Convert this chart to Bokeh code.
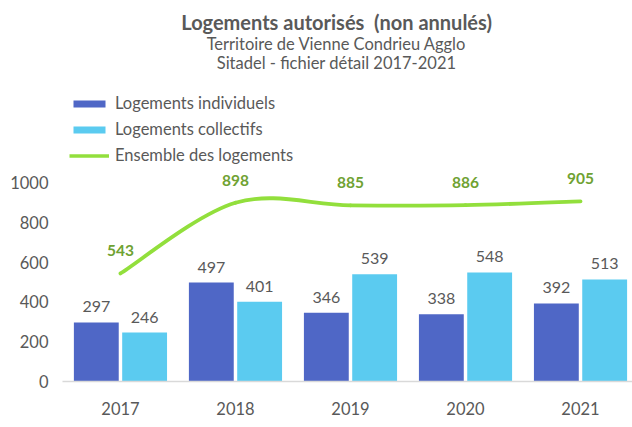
import numpy as np
from bokeh.plotting import figure
from bokeh.models import (ColumnDataSource, Legend, LegendItem, Range1d,
                          FixedTicker, CustomJSTickFormatter, Label, LabelSet)
from bokeh.core.properties import value
from bokeh.embed import file_html
from bokeh.resources import INLINE

years = ["2017", "2018", "2019", "2020", "2021"]
individuels = [297, 497, 346, 338, 392]
collectifs = [246, 401, 539, 548, 513]
ensemble = [543, 898, 885, 886, 905]
y_ticks = [0, 200, 400, 600, 800, 1000]

title_lines = ["Logements autorisés\u00a0 (non annulés)",
               "Territoire de Vienne Condrieu Agglo",
               "Sitadel - fichier détail 2017-2021"]
legend_labels = ["Logements individuels", "Logements collectifs", "Ensemble des logements"]

C_DARK = "#4F67C6"
C_LIGHT = "#5BCBF0"
C_LINE = "#92DF3C"
C_LINE_LBL = "#6FA232"
C_TEXT = "#595959"
FONT = "Lato"

x = np.arange(len(years), dtype=float)
off = 0.21
bw = 0.39

p = figure(width=632, height=427, output_backend="svg", toolbar_location=None,
           x_range=Range1d(-0.504, 4.452), y_range=Range1d(0, 1914),
           min_border_left=62, min_border_right=0, min_border_top=0,
           min_border_bottom=46)
p.outline_line_color = None
p.grid.visible = False
p.background_fill_color = "white"
p.border_fill_color = "white"

src = ColumnDataSource(dict(x=x, xd=x - off, xl=x + off, ind=individuels, col=collectifs,
                            ens=ensemble,
                            ind_t=[str(v) for v in individuels],
                            col_t=[str(v) for v in collectifs],
                            ens_t=[str(v) for v in ensemble]))

r_ind = p.vbar(x="xd", top="ind", width=bw, source=src, fill_color=C_DARK, line_color=None)
r_col = p.vbar(x="xl", top="col", width=bw, source=src, fill_color=C_LIGHT, line_color=None)

# smoothed line (Catmull-Rom style bezier as in spreadsheet "smoothed line")
xs = list(x)
ys = list(ensemble)
n = len(xs)
x0s, y0s, x1s, y1s, cx0, cy0, cx1, cy1 = [], [], [], [], [], [], [], []
for i in range(n - 1):
    pm = (xs[max(i - 1, 0)], ys[max(i - 1, 0)])
    p0 = (xs[i], ys[i])
    p1 = (xs[i + 1], ys[i + 1])
    pp = (xs[min(i + 2, n - 1)], ys[min(i + 2, n - 1)])
    x0s.append(p0[0]); y0s.append(p0[1]); x1s.append(p1[0]); y1s.append(p1[1])
    cx0.append(p0[0] + (p1[0] - pm[0]) / 6); cy0.append(p0[1] + (p1[1] - pm[1]) / 6)
    cx1.append(p1[0] - (pp[0] - p0[0]) / 6); cy1.append(p1[1] - (pp[1] - p0[1]) / 6)
p.bezier(x0=x0s, y0=y0s, x1=x1s, y1=y1s, cx0=cx0, cy0=cy0, cx1=cx1, cy1=cy1,
         line_color=C_LINE, line_width=3.8, line_cap="round")
# single-point line: invisible in the plot, used for the legend swatch
r_line = p.line(x=[xs[0]], y=[ys[0]], line_color=C_LINE, line_width=3.5)

# data labels
p.add_layout(LabelSet(x="xd", y="ind", text="ind_t", source=src, y_offset=10,
                      text_align="center", text_baseline="bottom",
                      text_font=value(FONT), text_font_size=value("16px"), text_color=C_TEXT))
p.add_layout(LabelSet(x="xl", y="col", text="col_t", source=src, y_offset=10,
                      text_align="center", text_baseline="bottom",
                      text_font=value(FONT), text_font_size=value("16px"), text_color=C_TEXT))
p.add_layout(LabelSet(x="x", y="ens", text="ens_t", source=src, y_offset=17,
                      text_align="center", text_baseline="bottom",
                      text_font=value(FONT), text_font_size=value("15.5px"),
                      text_font_style="bold", text_color=C_LINE_LBL))

# titles
tx = 1.879
for txt, ty, sz, st in [(title_lines[0], 1805, "20px", "bold"),
                        (title_lines[1], 1693, "16.5px", "normal"),
                        (title_lines[2], 1598, "16.5px", "normal")]:
    p.add_layout(Label(x=tx, y=ty, text=txt, text_align="center", text_baseline="middle",
                       text_font=FONT, text_font_size=sz, text_font_style=st,
                       text_color=C_TEXT))

# axes
p.xaxis.ticker = FixedTicker(ticks=list(x))
p.xaxis.formatter = CustomJSTickFormatter(args=dict(labels=years),
                                          code="return labels[Math.round(tick)];")
p.xaxis.axis_line_color = "#D9D9D9"
p.xaxis.axis_line_width = 1.5
p.xaxis.major_tick_line_color = None
p.xaxis.minor_tick_line_color = None
p.xaxis.major_label_text_font = FONT
p.xaxis.major_label_text_font_size = "16.5px"
p.xaxis.major_label_text_color = C_TEXT
p.xaxis.major_label_standoff = 14

p.yaxis.ticker = FixedTicker(ticks=y_ticks)
p.yaxis.axis_line_color = None
p.yaxis.major_tick_line_color = None
p.yaxis.minor_tick_line_color = None
p.yaxis.major_label_text_font = FONT
p.yaxis.major_label_text_font_size = "16.5px"
p.yaxis.major_label_text_color = C_TEXT
p.yaxis.major_label_standoff = 8

legend = Legend(items=[LegendItem(label=legend_labels[0], renderers=[r_ind]),
                       LegendItem(label=legend_labels[1], renderers=[r_col]),
                       LegendItem(label=legend_labels[2], renderers=[r_line])],
                location=(7, 216), orientation="vertical",
                glyph_width=40, glyph_height=9, label_height=17, spacing=6,
                label_standoff=6, padding=0, margin=0,
                border_line_color=None, background_fill_alpha=0,
                label_text_font=FONT, label_text_font_size="16.5px",
                label_text_color=C_TEXT)
p.add_layout(legend)

open("out.html", "w").write(file_html(p, INLINE))
